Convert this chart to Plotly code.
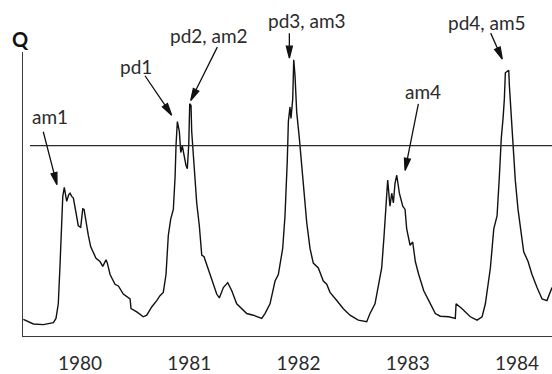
import math
import plotly.graph_objects as go

# Daily discharge hydrograph, 1979-1984 (decimal year, relative discharge)
years = [
    1979.481, 1979.573, 1979.664, 1979.756, 1979.780, 1979.801, 1979.817, 1979.833,
    1979.842, 1979.856, 1979.878, 1979.897, 1979.908, 1979.924, 1979.939, 1979.963,
    1979.984, 1980.006, 1980.025, 1980.037, 1980.055, 1980.076, 1980.098, 1980.122,
    1980.146, 1980.183, 1980.208, 1980.238, 1980.250, 1980.275, 1980.320, 1980.351,
    1980.396, 1980.458, 1980.467, 1980.519, 1980.579, 1980.611, 1980.656, 1980.702,
    1980.732, 1980.762, 1980.787, 1980.808, 1980.830, 1980.854, 1980.870, 1980.879,
    1980.891, 1980.909, 1980.922, 1980.936, 1980.952, 1980.970, 1980.982, 1980.995,
    1981.004, 1981.016, 1981.022, 1981.037, 1981.068, 1981.092, 1981.114, 1981.135,
    1981.160, 1981.190, 1981.220, 1981.251, 1981.275, 1981.312, 1981.352, 1981.389,
    1981.434, 1981.480, 1981.526, 1981.586, 1981.663, 1981.693, 1981.739, 1981.785,
    1981.815, 1981.855, 1981.876, 1981.897, 1981.907, 1981.922, 1981.931, 1981.947,
    1981.956, 1981.968, 1981.983, 1982.007, 1982.029, 1982.050, 1982.075, 1982.105,
    1982.135, 1982.181, 1982.227, 1982.258, 1982.288, 1982.350, 1982.410, 1982.471,
    1982.547, 1982.624, 1982.654, 1982.700, 1982.730, 1982.761, 1982.783, 1982.801,
    1982.816, 1982.837, 1982.853, 1982.868, 1982.883, 1982.899, 1982.923, 1982.954,
    1982.975, 1982.990, 1983.021, 1983.045, 1983.069, 1983.100, 1983.146, 1983.192,
    1983.252, 1983.298, 1983.375, 1983.435, 1983.442, 1983.497, 1983.572, 1983.634,
    1983.680, 1983.710, 1983.756, 1983.787, 1983.817, 1983.838, 1983.856, 1983.872,
    1983.884, 1983.893, 1983.924, 1983.930, 1983.945, 1983.961, 1983.984, 1984.009,
    1984.030, 1984.061, 1984.101, 1984.137, 1984.183, 1984.229, 1984.274, 1984.305,
    1984.320,
]
discharge = [
    17.0, 12.3, 11.7, 13.7, 18.0, 33.0, 73.0, 123.0,
    143.0, 152.3, 138.0, 145.0, 146.3, 143.0, 141.3, 126.3,
    113.0, 111.3, 130.3, 129.7, 116.3, 103.0, 91.3, 84.7,
    79.7, 76.3, 71.3, 78.0, 74.7, 63.0, 53.0, 51.3,
    43.0, 38.0, 28.0, 24.7, 19.7, 21.3, 29.7, 36.3,
    41.3, 44.7, 63.0, 103.0, 119.7, 129.7, 163.0, 196.3,
    219.7, 209.7, 188.0, 194.7, 183.0, 174.7, 171.3, 196.3,
    238.0, 236.3, 209.7, 183.0, 136.3, 113.0, 83.0, 81.3,
    73.0, 63.0, 53.0, 43.0, 39.0, 49.7, 54.7, 46.3,
    33.0, 28.0, 23.0, 21.3, 18.0, 23.0, 33.0, 56.3,
    63.0, 89.7, 123.0, 179.7, 219.7, 234.7, 223.0, 243.0,
    283.0, 266.3, 229.7, 203.0, 176.3, 149.7, 116.3, 89.7,
    74.7, 69.7, 56.3, 53.0, 44.7, 36.3, 28.0, 21.3,
    16.3, 14.7, 23.0, 33.0, 49.7, 69.7, 103.0, 129.7,
    159.7, 133.0, 146.3, 136.3, 156.3, 164.7, 146.3, 133.0,
    129.7, 109.7, 93.0, 96.3, 76.3, 63.0, 46.3, 36.3,
    23.0, 20.3, 19.7, 18.0, 33.0, 28.0, 19.7, 16.3,
    19.7, 33.0, 69.7, 109.7, 123.0, 163.0, 203.0, 223.0,
    243.0, 269.7, 272.3, 256.3, 229.7, 196.3, 159.7, 129.7,
    109.7, 86.3, 76.3, 63.0, 49.7, 38.0, 36.3, 46.3,
    49.7,
]

tick_years = [1980, 1981, 1982, 1983, 1984]
tick_labels = ["1980", "1981", "1982", "1983", "1984"]

threshold = 195.0
Q_MAX = 291.0

# Peak labels: text, text position (year, Q), arrow tip (year, Q), tail offset in px
peak_labels = ["am1", "pd1", "pd2, am2", "pd3, am3", "am4", "pd4, am5"]
label_year = [1979.721, 1980.513, 1981.185, 1982.082, 1983.135, 1983.725]
label_q = [225.0, 276.0, 308.0, 323.0, 251.0, 321.0]
tip_year = [1979.789, 1980.839, 1981.013, 1981.916, 1982.975, 1983.865]
tip_q = [155.0, 226.3, 241.3, 284.7, 169.7, 283.7]
tail_dx = [-13.7, -26.7, 26.6, 0.0, 13.3, -11.6]
tail_dy = [-53.0, -39.4, -53.4, -25.0, -66.6, -26.0]

FONT = "Lato, 'Open Sans', sans-serif"
TEXT_COLOR = "#2b2b2b"


def arrow_path(dx, dy, head_len=12.0, head_w=6.0):
    """Shaft plus filled head, in pixels relative to the tip (y up)."""
    tx, ty = dx, -dy
    n = math.hypot(tx, ty)
    ux, uy = tx / n, ty / n
    px, py = -uy, ux
    bx, by = ux * head_len, uy * head_len
    b1 = (bx + px * head_w / 2, by + py * head_w / 2)
    b2 = (bx - px * head_w / 2, by - py * head_w / 2)
    return (f"M{tx:.2f},{ty:.2f} L{bx:.2f},{by:.2f} "
            f"M0,0 L{b1[0]:.2f},{b1[1]:.2f} L{b2[0]:.2f},{b2[1]:.2f} Z")


fig = go.Figure()
fig.add_trace(go.Scatter(
    x=years, y=discharge, mode="lines",
    line=dict(color="#111111", width=1.4),
    hoverinfo="skip", showlegend=False,
))

shapes = [dict(
    type="line", xref="x", yref="y",
    x0=1979.542, x1=1984.320, y0=threshold, y1=threshold,
    line=dict(color="#2b2b2b", width=1.2),
)]
# arrows are anchored in paper-y so they may extend above the plot area
for i in range(len(peak_labels)):
    shapes.append(dict(
        type="path", xref="x", yref="paper",
        xsizemode="pixel", ysizemode="pixel",
        xanchor=tip_year[i], yanchor=tip_q[i] / Q_MAX,
        path=arrow_path(tail_dx[i], tail_dy[i]),
        line=dict(color="#111111", width=1.3),
        fillcolor="#111111",
    ))

annotations = []
for i, txt in enumerate(peak_labels):
    annotations.append(dict(
        x=label_year[i], y=label_q[i] / Q_MAX, xref="x", yref="paper",
        text=txt, showarrow=False, xanchor="center", yanchor="middle",
        font=dict(family=FONT, size=19, color=TEXT_COLOR),
    ))
annotations.append(dict(
    x=-0.005, y=1.047, xref="paper", yref="paper", text="<b>Q</b>",
    showarrow=False, xanchor="center", yanchor="middle",
    font=dict(family=FONT, size=20, color="#111111"),
))

fig.update_layout(
    width=552, height=374,
    margin=dict(l=23, r=0, t=52, b=31),
    paper_bgcolor="white", plot_bgcolor="white",
    shapes=shapes, annotations=annotations,
    xaxis=dict(
        range=[1979.478, 1984.320],
        tickvals=tick_years, ticktext=tick_labels,
        showgrid=False, zeroline=False,
        showline=True, linecolor="#3a3a3a", linewidth=1.4,
        ticks="", ticklabelstandoff=10,
        tickfont=dict(family=FONT, size=19, color=TEXT_COLOR),
    ),
    yaxis=dict(
        range=[0, Q_MAX],
        showticklabels=False, showgrid=False, zeroline=False,
        showline=True, linecolor="#3a3a3a", linewidth=1.4,
        ticks="",
    ),
)

fig.write_html("out.html")
